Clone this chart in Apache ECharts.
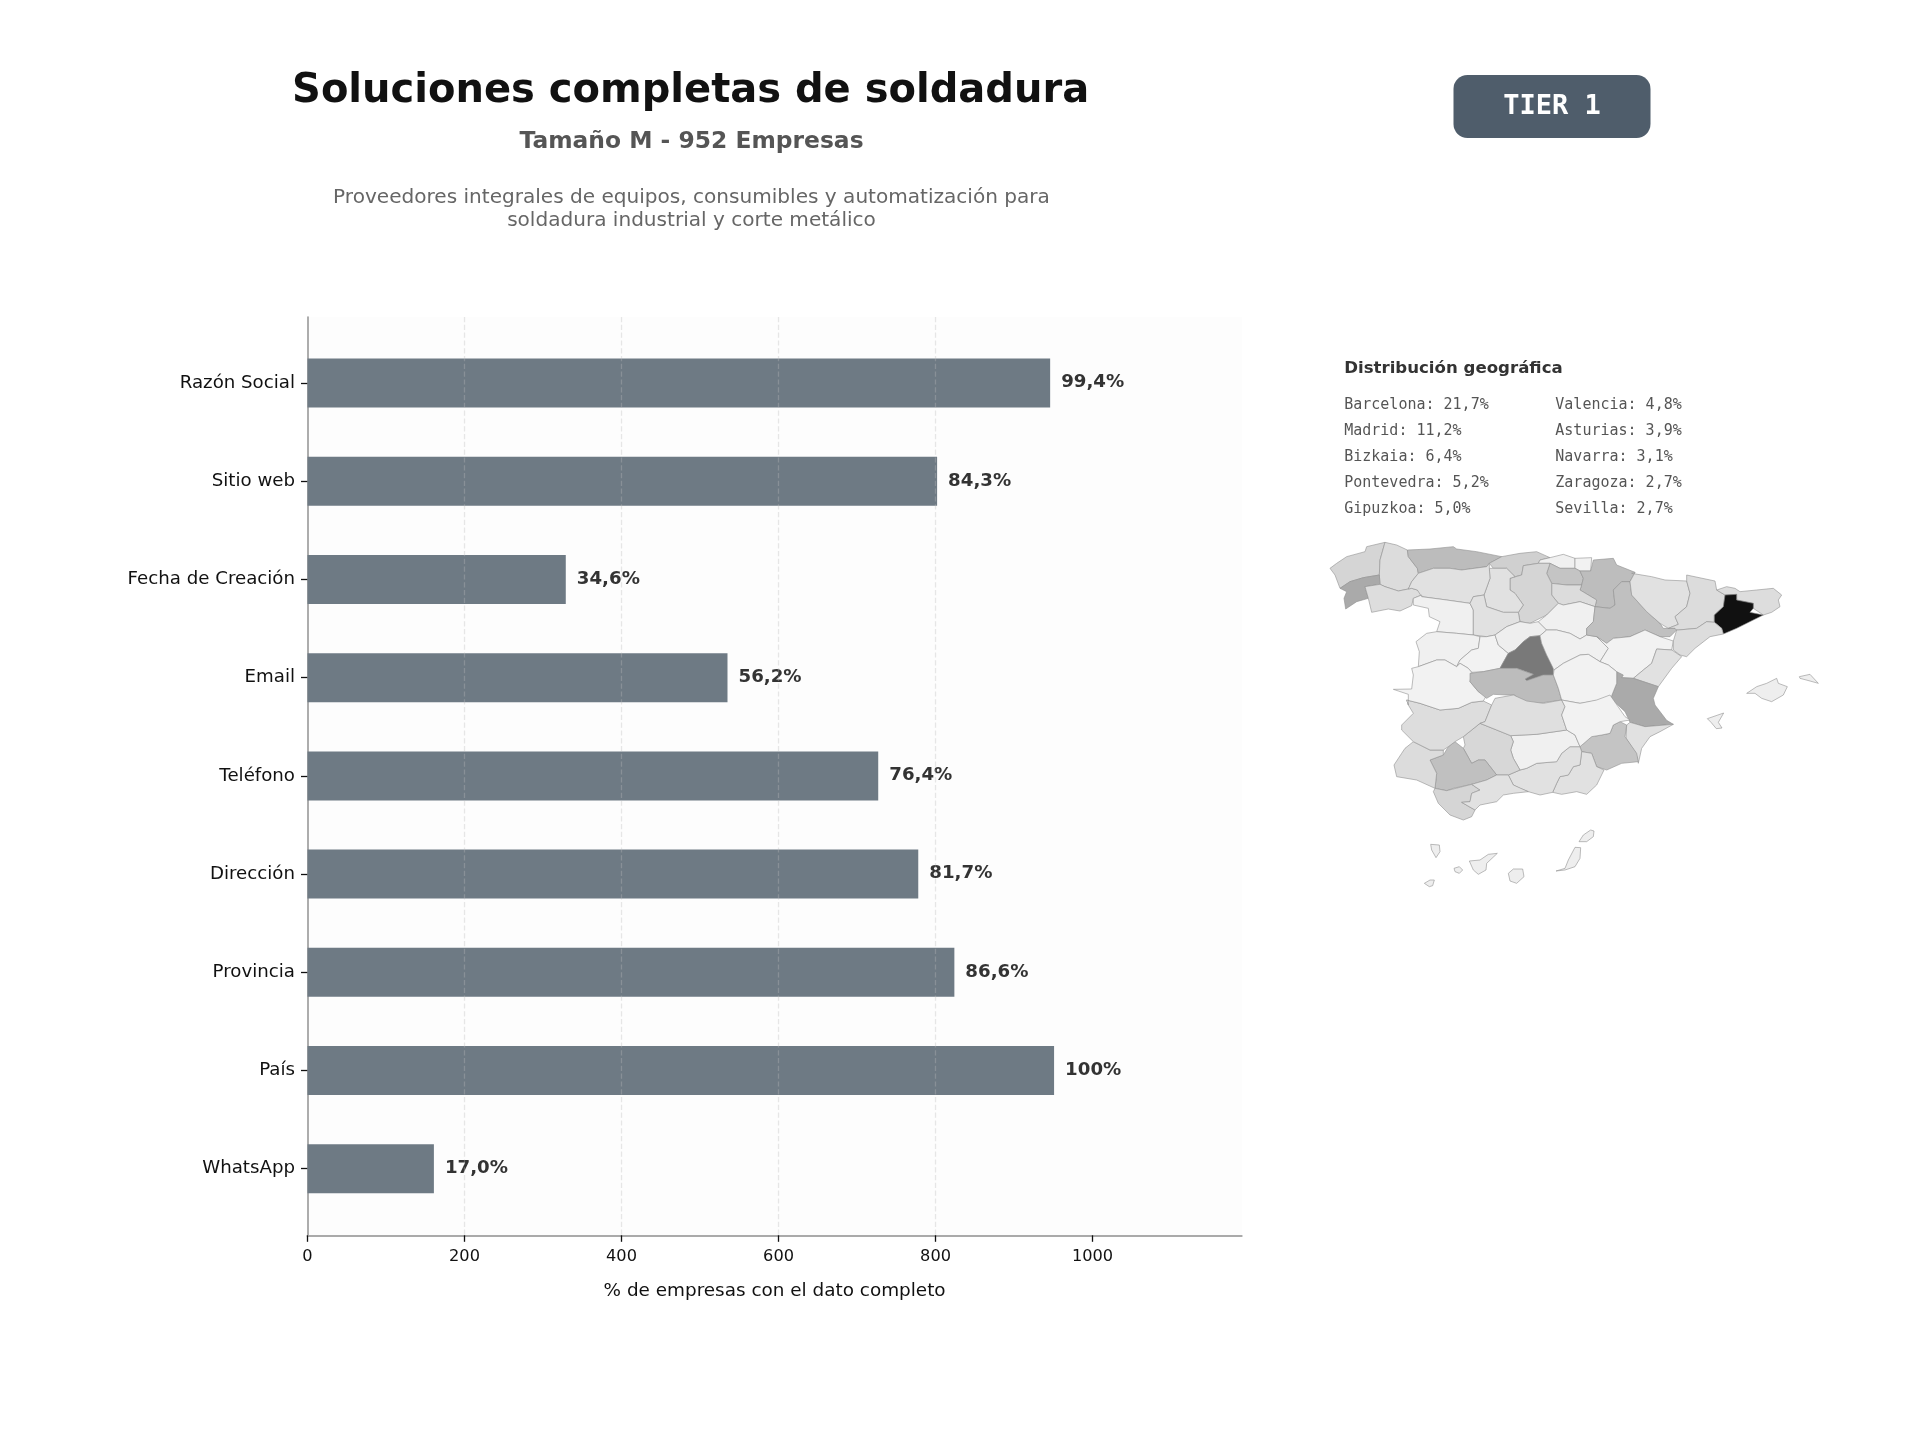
<!DOCTYPE html>
<html><head><meta charset="utf-8">
<style>html,body{margin:0;padding:0;background:#fff}#c{width:1920px;height:1440px}</style>
<script src="https://cdn.jsdelivr.net/npm/echarts@6/dist/echarts.min.js"></script>
</head><body><div id="c"></div>
<script>
const categories = ['Razón Social','Sitio web','Fecha de Creación','Email','Teléfono','Dirección','Provincia','País','WhatsApp'];
const companyCounts = [946,802,329,535,727,778,824,951,161];
const percentLabels = ['99,4%','84,3%','34,6%','56,2%','76,4%','81,7%','86,6%','100%','17,0%'];
const xTicks = [0,200,400,600,800,1000];
const legendLeft = ['Barcelona: 21,7%','Madrid: 11,2%','Bizkaia: 6,4%','Pontevedra: 5,2%','Gipuzkoa: 5,0%'];
const legendRight = ['Valencia: 4,8%','Asturias: 3,9%','Navarra: 3,1%','Zaragoza: 2,7%','Sevilla: 2,7%'];
const titleText = 'Soluciones completas de soldadura';
const subtitleText = 'Tamaño M - 952 Empresas';
const descriptionLines = ['Proveedores integrales de equipos, consumibles y automatización para','soldadura industrial y corte metálico'];

// Shade of each province on the map
const provinceShades = {
 'A Coruña':1.6,'Lugo':1.25,'Pontevedra':5.2,'Ourense':1.2,'Asturias':3.2,'Cantabria':1.9,'Bizkaia':0.2,'Gipuzkoa':0.1,'Álava':2.5,
 'Navarra':3.1,'La Rioja':1.25,'Burgos':1.6,'Palencia':1.0,'León':1.0,'Zamora':0.2,'Valladolid':1.0,'Salamanca':0.2,'Ávila':0.1,
 'Segovia':0.3,'Madrid':11.2,'Soria':0.2,'Guadalajara':0.2,'Zaragoza':2.7,'Teruel':0.1,'Huesca':1.0,'Lleida':1.25,'Girona':1.2,
 'Barcelona':21.7,'Tarragona':1.2,'Castellón':1.0,'Valencia':5.2,'Alicante':1.0,'Murcia':2.5,'Almería':1.0,'Granada':1.0,'Jaén':0.2,
 'Córdoba':1.5,'Sevilla':2.7,'Huelva':1.25,'Cádiz':1.6,'Málaga':1.0,'Badajoz':1.2,'Cáceres':0.1,'Toledo':3.2,'Ciudad Real':1.1,
 'Cuenca':0.1,'Albacete':0.1,'Baleares':0.3,'Las Palmas':0.3,'Santa Cruz de Tenerife':0.3
};

// Province outlines (map geometry)
const off = (pts,dx,dy)=>pts.map(p=>[p[0]+dx,p[1]+dy]);
const provinceShapes = {
 'A Coruña':[[[0,100],[20,85],[50,65],[105,50],[110,35],[165,22],[150,75],[148,120],[100,128],[60,140],[30,160],[15,120]]],
 'Lugo':[[[165,22],[200,30],[232,45],[235,65],[262,100],[265,115],[245,140],[235,162],[205,168],[165,155],[150,148],[148,120],[150,75]]],
 'Pontevedra':[[[148,120],[150,148],[105,155],[115,190],[80,200],[47,222],[42,190],[50,170],[30,160],[60,140],[100,128]]],
 'Ourense':[[[105,155],[150,148],[165,155],[205,168],[235,162],[245,160],[262,165],[275,180],[250,190],[245,212],[210,228],[175,222],[125,232],[115,190]]],
 'Asturias':[[[232,45],[300,42],[370,35],[380,42],[440,50],[515,65],[478,85],[470,95],[395,105],[360,100],[310,100],[265,115],[262,100],[235,65]]],
 'Cantabria':[[[515,65],[570,55],[620,50],[660,68],[630,75],[625,85],[580,92],[575,120],[555,125],[530,100],[490,100],[478,85]]],
 'Bizkaia':[[[660,68],[700,58],[735,70],[735,100],[690,100],[660,85],[625,85],[630,75]]],
 'Gipuzkoa':[[[735,70],[785,68],[782,108],[750,108],[735,100]]],
 'Álava':[[[660,85],[690,100],[735,100],[750,108],[760,130],[755,150],[710,150],[665,145],[650,115]]],
 'Navarra':[[[782,108],[790,75],[850,70],[860,90],[915,112],[900,140],[875,140],[850,165],[855,210],[840,220],[795,215],[800,195],[750,165],[755,150],[760,130],[750,108]]],
 'La Rioja':[[[665,145],[710,150],[755,150],[750,165],[800,195],[795,215],[750,200],[700,210],[685,205],[665,180]]],
 'Burgos':[[[540,130],[575,120],[580,92],[625,85],[660,85],[650,115],[665,145],[665,180],[685,205],[650,240],[600,265],[570,260],[565,232],[580,210],[555,175],[540,165]]],
 'Palencia':[[[478,100],[530,100],[555,125],[540,130],[540,165],[555,175],[580,210],[565,232],[520,232],[470,215],[462,180],[480,130]]],
 'León':[[[265,115],[310,100],[360,100],[395,105],[470,95],[478,85],[478,100],[480,130],[462,180],[430,185],[420,205],[350,195],[275,185],[262,165],[245,160],[235,162],[245,140]]],
 'Zamora':[[[250,190],[275,180],[275,185],[350,195],[420,205],[430,225],[430,300],[380,295],[320,290],[330,260],[298,245],[295,220],[250,210]]],
 'Valladolid':[[[420,205],[430,185],[462,180],[470,215],[520,232],[565,232],[570,260],[530,275],[495,300],[470,305],[430,300],[430,225]]],
 'Salamanca':[[[320,290],[380,295],[430,300],[450,305],[445,340],[425,345],[390,375],[380,395],[345,375],[320,375],[265,395],[268,350],[258,320],[290,295]]],
 'Ávila':[[[450,305],[470,305],[495,300],[505,330],[535,355],[510,400],[460,410],[425,412],[415,400],[390,385],[380,395],[390,375],[425,345],[445,340]]],
 'Segovia':[[[495,300],[530,275],[570,260],[600,265],[625,260],[650,285],[630,302],[600,305],[580,320],[555,345],[535,355],[505,330]]],
 'Madrid':[[[630,302],[635,325],[650,360],[670,395],[670,420],[640,420],[590,437],[585,432],[610,418],[560,400],[510,400],[535,355],[555,345],[580,320],[600,305]]],
 'Soria':[[[625,260],[650,240],[685,205],[700,210],[750,200],[795,215],[790,260],[770,280],[770,300],[750,312],[720,295],[680,285],[650,285]]],
 'Guadalajara':[[[630,302],[650,285],[680,285],[720,295],[750,312],[770,300],[800,305],[835,340],[810,380],[775,358],[750,360],[700,385],[672,405],[650,360],[635,325]]],
 'Zaragoza':[[[855,210],[850,165],[875,140],[900,140],[905,180],[950,230],[990,265],[1000,280],[1035,280],[1040,285],[1020,305],[990,305],[945,285],[900,305],[850,310],[830,325],[800,305],[770,300],[770,280],[790,260],[795,215],[840,220]]],
 'Teruel':[[[800,305],[830,325],[850,310],[900,305],[945,285],[990,305],[1030,318],[1025,345],[980,342],[965,385],[940,405],[910,430],[875,428],[860,410],[835,390],[810,380],[835,340]]],
 'Huesca':[[[905,115],[965,125],[1005,135],[1070,138],[1080,175],[1070,215],[1035,245],[1045,268],[1015,280],[990,265],[950,230],[905,180],[900,140],[915,112]]],
 'Lleida':[[[1070,120],[1155,138],[1160,165],[1185,180],[1180,215],[1153,240],[1153,262],[1130,260],[1100,280],[1045,285],[1040,285],[1035,280],[1015,280],[1045,268],[1035,245],[1070,215],[1080,175],[1070,138]]],
 'Girona':[[[1190,155],[1215,160],[1230,170],[1280,165],[1330,160],[1355,180],[1345,195],[1350,215],[1325,232],[1300,240],[1270,220],[1270,205],[1220,195],[1220,178],[1185,180],[1160,165]]],
 'Barcelona':[[[1185,180],[1220,178],[1220,195],[1270,205],[1270,220],[1260,232],[1300,240],[1250,265],[1220,280],[1180,297],[1175,280],[1153,262],[1153,240],[1180,215]]],
 'Tarragona':[[[1045,285],[1100,280],[1130,260],[1153,262],[1175,280],[1180,297],[1140,305],[1095,340],[1070,365],[1050,360],[1030,345],[1030,318],[1040,285]]],
 'Castellón':[[[980,342],[1025,345],[1030,348],[1055,365],[1025,400],[985,455],[910,430],[940,405],[965,385]]],
 'Valencia':[[[860,410],[880,420],[875,428],[910,430],[985,455],[970,490],[975,510],[1010,556],[1030,568],[945,575],[900,562],[885,530],[842,490],[860,445]]],
 'Alicante':[[[900,562],[945,575],[1030,568],[990,590],[960,605],[935,640],[925,685],[918,655],[888,610],[890,570]]],
 'Murcia':[[[750,635],[785,605],[815,600],[840,595],[850,570],[870,560],[890,570],[885,605],[920,655],[925,680],[875,685],[830,705],[800,695],[785,655],[755,650]]],
 'Almería':[off([[605,170],[635,175],[650,215],[672,225],[650,270],[620,298],[590,290],[545,298],[518,292],[530,265],[540,245],[565,240],[580,215],[600,210]],150,480)],
 'Granada':[off([[385,240],[420,225],[440,220],[470,205],[530,200],[545,175],[570,155],[600,155],[605,170],[600,210],[580,215],[565,240],[540,245],[530,265],[518,292],[480,300],[445,290],[420,280],[400,270]],150,480)],
 'Jaén':[off([[392,122],[470,118],[560,105],[585,120],[600,155],[570,155],[545,175],[530,200],[470,205],[440,220],[420,225],[400,190],[392,165],[400,140]],150,480)],
 'Córdoba':[off([[250,125],[300,85],[350,105],[392,122],[400,140],[392,165],[400,190],[420,225],[385,240],[350,240],[315,195],[295,195],[275,205],[250,160],[255,150]],150,480)],
 'Sevilla':[off([[150,195],[190,180],[205,155],[225,140],[250,160],[275,205],[295,195],[315,195],[350,240],[320,255],[275,268],[220,280],[200,287],[165,280],[170,235]],150,480)],
 'Huelva':[off([[42,210],[65,175],[75,160],[100,140],[150,165],[190,165],[190,180],[150,195],[170,235],[165,280],[110,255],[50,245]],150,480)],
 'Cádiz':[off([[160,290],[165,280],[200,287],[275,268],[300,285],[275,295],[270,320],[245,322],[285,345],[275,365],[250,375],[210,360],[175,325]],150,480)],
 'Málaga':[off([[245,322],[270,320],[275,295],[300,285],[275,268],[320,255],[350,240],[385,240],[400,270],[445,290],[400,295],[370,300],[350,320],[300,330],[285,345]],150,480)],
 'Badajoz':[off([[80,15],[120,25],[180,45],[235,40],[275,22],[310,18],[335,30],[315,80],[300,85],[250,125],[225,140],[205,155],[190,165],[150,165],[100,140],[65,105],[65,90],[100,55],[85,30]],150,480)],
 'Cáceres':[[[190,463],[245,462],[250,420],[245,400],[265,395],[320,375],[345,375],[380,395],[390,385],[415,400],[425,412],[420,440],[445,470],[470,480],[460,498],[425,502],[385,520],[330,525],[270,505],[230,495],[235,510],[235,478]]],
 'Toledo':[[[420,415],[460,410],[510,400],[560,400],[610,418],[585,432],[590,437],[640,420],[670,420],[685,460],[695,495],[625,505],[575,500],[555,480],[530,480],[490,478],[470,490],[445,470],[420,440]]],
 'Ciudad Real':[off([[315,80],[335,30],[345,10],[400,0],[440,18],[490,25],[545,15],[555,35],[545,60],[560,105],[470,118],[392,122],[350,105],[300,85]],150,480)],
 'Cuenca':[[[672,405],[700,385],[750,360],[775,358],[810,380],[835,390],[860,410],[860,445],[842,490],[800,497],[750,505],[695,495],[685,460],[670,420]]],
 'Albacete':[off([[545,15],[600,25],[650,15],[690,0],[735,65],[750,75],[720,80],[700,90],[690,115],[665,120],[635,125],[600,155],[585,120],[560,105],[545,60],[555,35]],150,480)],
 'Baleares':[
  off([[500,475],[530,455],[560,445],[590,430],[595,445],[622,455],[610,480],[575,500],[545,490],[525,475]],750,0),
  off([[658,425],[690,418],[715,445],[690,438],[660,430]],750,0),
  [[1132,551],[1181,534],[1165,562],[1176,579],[1159,581],[1143,562]]],
 'Las Palmas':[
  off([[385,535],[400,522],[428,522],[432,545],[410,565],[390,558]],150,480),
  off([[528,528],[555,520],[565,495],[585,457],[602,458],[600,490],[585,515],[555,525]],150,480),
  off([[597,440],[610,420],[632,405],[642,408],[640,425],[620,440]],150,480)],
 'Santa Cruz de Tenerife':[
  off([[152,448],[178,450],[180,470],[168,488],[155,465]],150,480),
  off([[222,520],[238,515],[248,525],[238,535],[225,530]],150,480),
  off([[268,498],[300,495],[325,478],[352,475],[320,505],[318,525],[295,538],[280,525]],150,480),
  off([[133,565],[150,555],[163,555],[158,572],[148,575]],150,480)]
};

const spainGeo = {type:'FeatureCollection',features:Object.keys(provinceShapes).map(name=>({
  type:'Feature',properties:{name},
  geometry:{type:'MultiPolygon',coordinates:provinceShapes[name].map(r=>{const o=r.map(p=>[p[0],-p[1]]);o.push(o[0]);return [o];})}
}))};
echarts.registerMap('spain',spainGeo);

const chart = echarts.init(document.getElementById('c'),null,{renderer:'canvas'});
const SANS='"DejaVu Sans"', MONO='"DejaVu Sans Mono"';
const PL=307.5, PW=934.2;
const gText=(text,x,y,o)=>({type:'text',x,y,silent:true,style:Object.assign({text,textVerticalAlign:'middle',fontFamily:SANS},o)});
const graphics=[
  {type:'rect',shape:{x:1453.5,y:75,width:197,height:63,r:14},style:{fill:'#4f5d6b'},silent:true},
  gText('TIER 1',1552,107,{textAlign:'center',fontFamily:MONO,fontWeight:'bold',fontSize:27,fill:'#fff'}),
  gText(descriptionLines[0],691.5,197.5,{textAlign:'center',fontSize:20.07,fill:'#666'}),
  gText(descriptionLines[1],691.5,220.5,{textAlign:'center',fontSize:20.07,fill:'#666'}),
  gText('Distribución geográfica',1344.2,369,{textAlign:'left',fontWeight:'bold',fontSize:16.6,fill:'#333'})
];
legendLeft.forEach((t,i)=>graphics.push(gText(t,1344.2,405+i*26.1,{textAlign:'left',fontFamily:MONO,fontSize:15,fill:'#555'})));
legendRight.forEach((t,i)=>graphics.push(gText(t,1555.3,405+i*26.1,{textAlign:'left',fontFamily:MONO,fontSize:15,fill:'#555'})));

chart.setOption({
  animation:false,
  backgroundColor:'#ffffff',
  title:[
    {text:titleText,left:690.6,top:67,padding:0,textAlign:'center',textStyle:{fontFamily:SANS,fontWeight:'bold',fontSize:40,color:'#111',lineHeight:50}},
    {text:subtitleText,left:691.5,top:128,padding:0,textAlign:'center',textStyle:{fontFamily:SANS,fontWeight:'bold',fontSize:23.4,color:'#555',lineHeight:28}}
  ],
  grid:[
    {left:PL,width:PW,top:334,height:883.8,containLabel:false},
    {left:PL,width:PW,top:317,height:918.3,show:true,backgroundColor:'#fdfdfd',borderWidth:0}
  ],
  xAxis:[
    {gridIndex:0,type:'value',min:0,max:1190,show:false},
    {gridIndex:1,type:'value',min:0,max:1190,interval:200,z:3,
     axisLine:{show:true,onZero:false,lineStyle:{color:'#aaaaaa',width:2}},
     axisTick:{show:true,length:6.5,customValues:xTicks,lineStyle:{color:'#111',width:1.3}},
     axisLabel:{show:true,margin:13.5,customValues:xTicks,formatter:v=>String(v),fontFamily:SANS,fontSize:16.2,color:'#111'},
     splitLine:{show:true,showMinLine:false,showMaxLine:false,lineStyle:{color:'rgba(185,185,185,0.35)',type:'dashed',width:1.3}},
     name:'% de empresas con el dato completo',nameLocation:'middle',nameGap:47,
     nameTextStyle:{fontFamily:SANS,fontSize:18.4,color:'#111'}}
  ],
  yAxis:[
    {gridIndex:0,type:'category',data:categories,inverse:true,
     axisLine:{show:false},
     axisTick:{show:true,alignWithLabel:true,length:6.5,lineStyle:{color:'#111',width:1.3}},
     axisLabel:{margin:12.5,padding:[6.5,0,0,0],fontFamily:SANS,fontSize:18.2,color:'#111'}},
    {gridIndex:1,type:'value',min:0,max:1,show:true,splitLine:{show:false},
     axisLine:{show:true,onZero:false,lineStyle:{color:'#999999',width:1.6}},axisTick:{show:false},axisLabel:{show:false}}
  ],
  visualMap:{show:false,type:'continuous',seriesIndex:1,min:0,max:21.7,
    inRange:{color:['#f4f4f4','#c0c0c0','#a8a8a8','#949494','#7c7c7c','#666666','#4e4e4e','#343434','#111111']}},
  series:[
    {type:'bar',xAxisIndex:0,yAxisIndex:0,data:companyCounts,barWidth:49,silent:true,z:2,
     itemStyle:{color:'#6e7a84'},
     label:{show:true,position:'right',distance:11,offset:[0,-0.5],
       formatter:p=>percentLabels[p.dataIndex],fontFamily:SANS,fontWeight:'bold',fontSize:18.2,color:'#333'}},
    {type:'map',map:'spain',silent:true,aspectScale:1,left:1330,top:535,width:500,height:360,
     boundingCoords:[[0,0],[1500,-1080]],roam:false,label:{show:false},
     emphasis:{disabled:true},select:{disabled:true},
     itemStyle:{borderColor:'#909090',borderWidth:0.6,areaColor:'#f4f4f4'},
     data:Object.keys(provinceShades).map(name=>({name,value:provinceShades[name]}))}
  ],
  graphic:graphics
});
</script></body></html>
